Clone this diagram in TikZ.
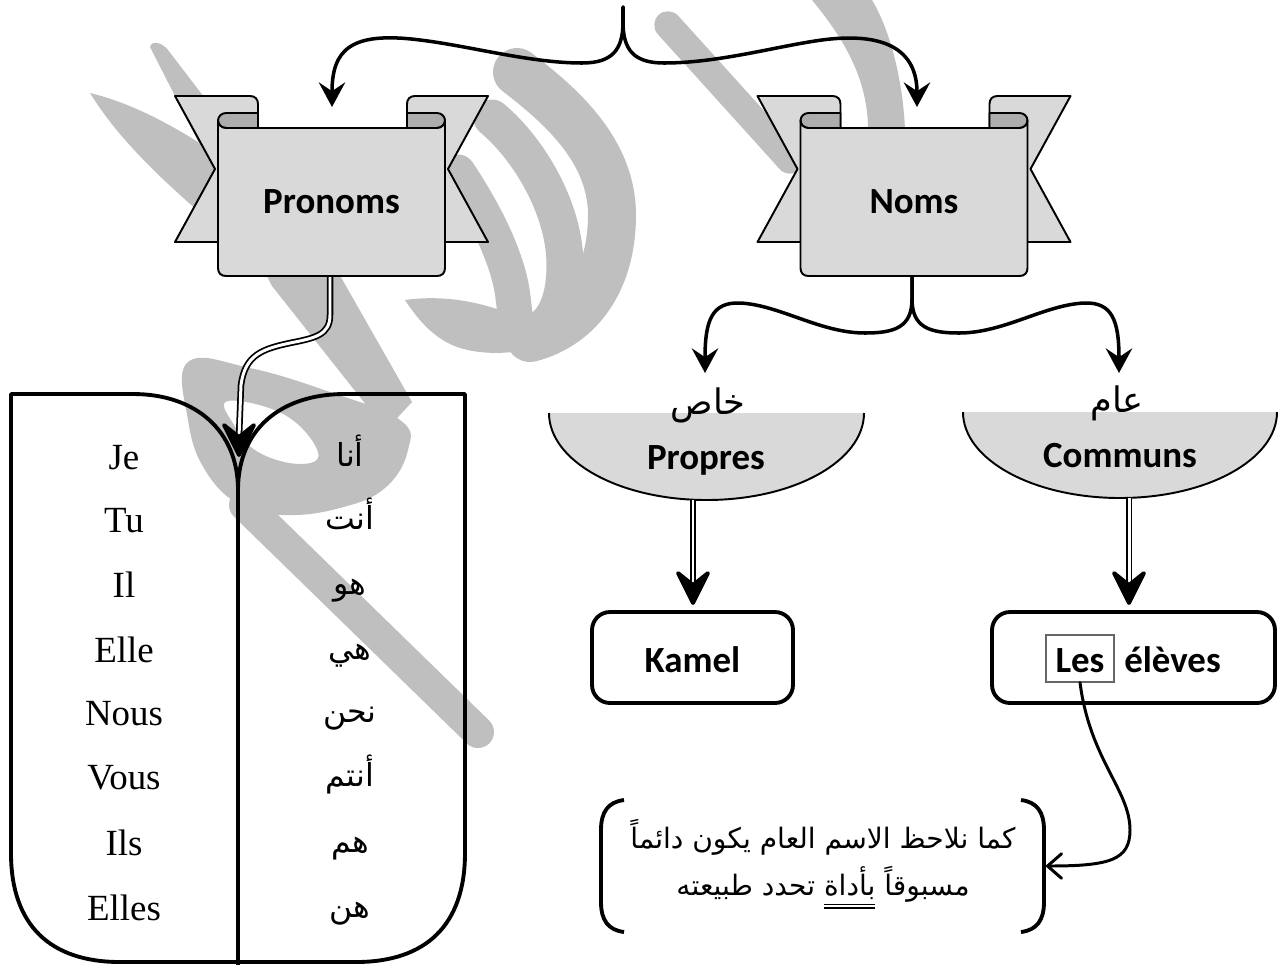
\documentclass[tikz,border=0pt]{standalone}
\usepackage{fontspec}
\usetikzlibrary{arrows.meta,calc}
\setmainfont{Liberation Serif}
\newfontfamily\calib{Carlito}
\newfontfamily\arabicfont[Script=Arabic]{DejaVu Sans}
\TeXXeTstate=1
\definecolor{ribbon}{HTML}{D9D9D9}
\definecolor{rolldark}{HTML}{ADADAD}
\definecolor{wmark}{HTML}{BFBFBF}
\newcommand{\dblul}[1]{\vtop{\hbox{\beginR #1\endR}\kern2.5pt\hrule height 0.7pt\kern1.2pt\hrule height 0.7pt}}
\begin{document}
\begin{tikzpicture}[x=0.02cm, y=-0.02cm,
  lbl/.style={font=\calib\bfseries\fontsize{21}{25}\selectfont, inner sep=0pt, anchor=base},
  fr/.style={font=\fontsize{21}{25}\selectfont, inner sep=0pt, anchor=base},
  arw/.style={font=\arabicfont\fontsize{18}{22}\selectfont, inner sep=0pt, anchor=base},
  ribbonsty/.style={fill=ribbon, draw=black, line width=1.1pt, line join=round},
  rollsty/.style={fill=rolldark, draw=black, line width=1.1pt, line join=round},
  brc/.style={line width=2pt, line cap=round, line join=round, -{Stealth[length=14pt, width=15pt, inset=5pt]}},
  dbl/.style={draw=black, double=white, double distance=1.7pt, line width=1pt},
  bigtip/.style={fill=black, draw=black, line width=2.2pt, line join=round},
  wbox/.style={draw=black, line width=2.2pt, rounded corners=0.36cm, minimum height=1.82cm},
  bookline/.style={line width=2.2pt, line join=round},
  wms/.style={draw=wmark, line cap=round, line join=round}
]
\useasboundingbox (0,0) rectangle (1282,965);

% ---------- watermark ----------
\fill[wmark] (90,93) .. controls (140,105) and (190,135) .. (232,165) -- (232,240) .. controls (185,200) and (125,150) .. (90,93) -- cycle;
\fill[wmark] (150,47) .. controls (150,42) and (160,40) .. (168,50) -- (338,272) -- (412,402) -- (386,430) -- (272,286) -- cycle;
\fill[wmark, even odd rule] plot[smooth cycle, tension=0.7] coordinates {(188,362) (250,368) (330,392) (400,420) (408,450) (385,488) (340,508) (285,515) (240,505) (205,470) (188,420)}
  plot[smooth cycle, tension=0.7] coordinates {(228,401) (285,415) (318,452) (300,464) (258,452) (234,425)};
\draw[wms, line width=0.64cm] (245,505) -- (478,732);
% shin-like teeth
\draw[wms, line width=0.96cm] (517,72) .. controls (560,105) and (612,150) .. (612,215) .. controls (612,280) and (580,325) .. (530,338);
\draw[wms, line width=0.74cm] (492,118) .. controls (530,150) and (565,210) .. (565,265) .. controls (565,300) and (555,320) .. (540,330);
\draw[wms, line width=0.7cm] (458,172) .. controls (480,205) and (505,250) .. (512,290) .. controls (515,310) and (515,325) .. (520,332);
\fill[wmark] (405,300) .. controls (440,295) and (480,300) .. (520,318) -- (580,318) .. controls (560,350) and (500,360) .. (460,348) .. controls (435,340) and (418,320) .. (405,300) -- cycle;
\draw[wms, line width=0.55cm] (668,25) -- (790,160);
\fill[wmark] (812,0) .. controls (845,40) and (868,80) .. (868,130) -- (905,130) .. controls (903,80) and (890,30) .. (872,0) -- cycle;

% ---------- scrolls ----------
\foreach \dx in {0,582.5}{
\begin{scope}[shift={(\dx,0)}]
\filldraw[ribbonsty] (175,96) -- (250,96) .. controls (255,96) and (258,99) .. (258,104) -- (258,242) -- (175,242) -- (215,169) -- cycle;
\filldraw[ribbonsty] (488,96) -- (415,96) .. controls (410,96) and (407,99) .. (407,104) -- (407,242) -- (488,242) -- (448,169) -- cycle;
\filldraw[rollsty] (258,113) -- (226,113) .. controls (221.5,113) and (218,116.5) .. (218,120.5) .. controls (218,124.5) and (221.5,128) .. (226,128) -- (258,128) -- cycle;
\filldraw[rollsty] (407,113) -- (437,113) .. controls (441.5,113) and (445,116.5) .. (445,120.5) .. controls (445,124.5) and (441.5,128) .. (437,128) -- (407,128) -- cycle;
\filldraw[ribbonsty] (218,120.5) -- (218,268) .. controls (218,273) and (221,276) .. (226,276) -- (437,276) .. controls (442,276) and (445,273) .. (445,268) -- (445,120.5) .. controls (445,124.5) and (441.5,128) .. (437,128) -- (226,128) .. controls (221.5,128) and (218,124.5) .. (218,120.5) -- cycle;
\end{scope}}

\node[lbl] (pronoms) at (331.5,213) {Pronoms};
\node[lbl] (noms) at (914,213) {Noms};

% ---------- anchors ----------
\coordinate (braceTop) at (623,7);
\coordinate (pronomsTop) at (332,107);
\coordinate (nomsTop) at (917,107);
\coordinate (pronomsBot) at (330,277);
\coordinate (nomsBot) at (912,277);
\coordinate (propresTop) at (705,373);
\coordinate (communsTop) at (1119,373);
\coordinate (propresBot) at (693,500);
\coordinate (communsBot) at (1129,498);
\coordinate (kamelTop) at (693,603);
\coordinate (elevesTop) at (1129,603);
\coordinate (bookTip) at (239,455);
\coordinate (noteR) at (1046,866);

% ---------- top brace ----------
\draw[brc] (braceTop) -- ++(0,15) .. controls +(0,28) and (612,63) .. (582,63) .. controls (530,63) and (470,46) .. (420,40) .. controls (350,31) and (332,50) .. (pronomsTop);
\draw[brc] (braceTop) -- ++(0,15) .. controls +(0,28) and (634,63) .. (664,63) .. controls (716,63) and (770,48) .. (815,41) .. controls (885,30) and (917,50) .. (nomsTop);

% ---------- Noms brace ----------
\draw[brc] (nomsBot) -- ++(0,22) .. controls +(0,28) and (895,333) .. (865,333) .. controls (820,333) and (780,305) .. (740,303) .. controls (712,302) and (705,320) .. (propresTop);
\draw[brc] (nomsBot) -- ++(0,22) .. controls +(0,28) and (929,333) .. (959,333) .. controls (1004,333) and (1044,305) .. (1084,303) .. controls (1112,302) and (1119,320) .. (communsTop);

% ---------- bowls ----------
\fill[ribbon] (549,413) .. controls (549,461) and (619,500) .. (706.5,500) .. controls (794,500) and (864,461) .. (864,413) -- cycle;
\draw[line width=1.1pt] (549,413) .. controls (549,461) and (619,500) .. (706.5,500) .. controls (794,500) and (864,461) .. (864,413);
\fill[ribbon] (963,412) .. controls (963,459.5) and (1033,498) .. (1120,498) .. controls (1207,498) and (1277,459.5) .. (1277,412) -- cycle;
\draw[line width=1.1pt] (963,412) .. controls (963,459.5) and (1033,498) .. (1120,498) .. controls (1207,498) and (1277,459.5) .. (1277,412);
\node[arw, font=\arabicfont\fontsize{20}{22}\selectfont] (khass) at (708,414) {\beginR خاص\endR};
\node[arw, font=\arabicfont\fontsize{20}{22}\selectfont] (aam) at (1117,412) {\beginR عام\endR};
\node[lbl] (propres) at (706,469) {Propres};
\node[lbl] (communs) at (1120,467) {Communs};

% ---------- boxes ----------
\node[wbox, minimum width=4.02cm] (kamelbox) at (692.5,657.5) {};
\node[lbl] (kamel) at (692.5,672) {Kamel};
\node[wbox, minimum width=5.66cm] (elevesbox) at (1133.5,657.5) {};
\node[draw=black!60, line width=0.6pt, minimum width=1.36cm, minimum height=0.94cm, inner sep=0pt] (lesbox) at (1080,658.5) {};
\node[lbl] (les) at (1080,672) {Les};
\node[lbl, anchor=base west] (eleves) at (1124,672) {élèves};

% ---------- double arrows ----------
\draw[dbl, shorten >=0.3cm] (propresBot) -- (kamelTop);
\filldraw[bigtip] (kamelTop) -- ++(-15,-30) -- ++(15,12) -- ++(15,-12) -- cycle;
\draw[dbl, shorten >=0.3cm] (communsBot) -- (elevesTop);
\filldraw[bigtip] (elevesTop) -- ++(-15,-30) -- ++(15,12) -- ++(15,-12) -- cycle;
\draw[dbl] (pronomsBot) -- (330,315) .. controls (330,335) and (315,338) .. (290,343) .. controls (262,349) and (245,355) .. (241,385) -- ($(bookTip)+(0,-18)$);
\filldraw[bigtip] (bookTip) -- ++(-15,-30) -- ++(15,12) -- ++(15,-12) -- cycle;

% ---------- book ----------
\coordinate (spine) at (238,490);
\draw[bookline] (spine) .. controls (238,430) and (195,394) .. (133,394) -- (11,394) -- (11,853) .. controls (11,925) and (50,962) .. (120,962) -- (238,962);
\draw[bookline] (spine) .. controls (238,430) and (280,394) .. (345,394) -- (465,394) -- (465,853) .. controls (465,925) and (426,962) .. (356,962) -- (238,962);
\draw[bookline] (spine) -- (238,965);

\node[fr] (je) at (124,469) {Je};
\node[fr] (tu) at (124,532) {Tu};
\node[fr] (il) at (124,597) {Il};
\node[fr] (elle) at (124,662) {Elle};
\node[fr] (nous) at (124,725) {Nous};
\node[fr] (vous) at (124,789) {Vous};
\node[fr] (ils) at (124,855) {Ils};
\node[fr] (elles) at (124,920) {Elles};

\node[arw] (ana) at (350,466) {\beginR أنا\endR};
\node[arw] (anta) at (350,529) {\beginR أنت\endR};
\node[arw] (huwa) at (350,594) {\beginR هو\endR};
\node[arw] (hiya) at (350,659) {\beginR هي\endR};
\node[arw] (nahnu) at (350,722) {\beginR نحن\endR};
\node[arw] (antum) at (350,786) {\beginR أنتم\endR};
\node[arw] (hum) at (350,852) {\beginR هم\endR};
\node[arw] (hunna) at (350,917) {\beginR هن\endR};

% ---------- note ----------
\draw[line width=2.2pt] (624,800) .. controls (608,802) and (601,812) .. (601,830) -- (601,902) .. controls (601,920) and (608,930) .. (624,932);
\draw[line width=2.2pt] (1021,800) .. controls (1037,802) and (1044,812) .. (1044,830) -- (1044,902) .. controls (1044,920) and (1037,930) .. (1021,932);
\node[arw, anchor=center, align=center, font=\arabicfont\fontsize{16}{26.5}\selectfont] (note) at (823,864)
  {\beginR كما نلاحظ الاسم العام يكون دائماً\endR\\\beginR مسبوقاً \dblul{بأداة} تحدد طبيعته\endR};

\draw[line width=1.7pt, line cap=round, -{Straight Barb[length=8pt, width=14pt, round]}] (lesbox.south) .. controls (1090,760) and (1130,790) .. (1130,830) .. controls (1130,860) and (1110,866) .. (noteR);
\end{tikzpicture}
\end{document}
